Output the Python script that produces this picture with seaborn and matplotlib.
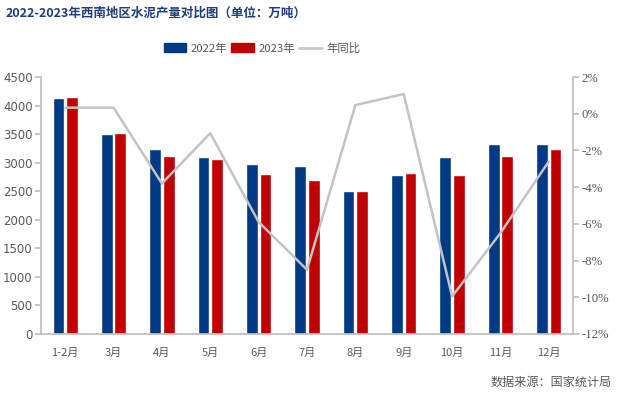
import matplotlib
matplotlib.use("Agg")
import matplotlib.pyplot as plt
import seaborn as sns
import pandas as pd
from matplotlib.ticker import FuncFormatter
from matplotlib.patches import Patch
from matplotlib.lines import Line2D

months = ["1-2月", "3月", "4月", "5月", "6月", "7月", "8月", "9月", "10月", "11月", "12月"]
v2022 = [4130, 3500, 3240, 3100, 2978, 2942, 2504, 2784, 3100, 3327, 3327]
v2023 = [4150, 3523, 3117, 3064, 2802, 2697, 2504, 2819, 2784, 3117, 3239]
yoy = [0.33, 0.33, -3.8, -1.06, -5.9, -8.5, 0.47, 1.07, -9.95, -6.5, -2.6]
series_names = ["2022年", "2023年", "年同比"]

sns.set_theme(style="white")
plt.rcParams['font.family'] = ['Noto Sans CJK SC', 'DejaVu Sans']

df = pd.DataFrame({
    "month": months * 2,
    "value": v2022 + v2023,
    "year": [series_names[0]] * len(months) + [series_names[1]] * len(months),
})
df_line = pd.DataFrame({"month": months, "yoy": yoy})

fig = plt.figure(figsize=(6.18, 3.93), dpi=100)
ax = fig.add_axes([41/618, 1-334/393, (573-41)/618, (334-77)/393])

sns.barplot(data=df, x="month", y="value", hue="year", ax=ax,
            palette=["#003A84", "#C00000"], width=0.56, gap=0.13,
            saturation=1, legend=False)
ax.set_ylim(0, 4500)
ax.set_yticks(range(0, 4501, 500))
ax.set_xlabel("")
ax.set_ylabel("")

ax2 = ax.twinx()
sns.lineplot(data=df_line, x="month", y="yoy", ax=ax2, color="#C3C3C3",
             linewidth=1.8, sort=False)
ax2.set_ylim(-12, 2)
ax2.set_yticks(range(-12, 3, 2))
ax2.yaxis.set_major_formatter(FuncFormatter(lambda v, p: f"{int(v)}%"))
ax2.set_ylabel("")
ax.set_xlim(-0.5, len(months) - 0.5)

grey = "#595959"
spine_c = "#BFBFBF"
for a in (ax, ax2):
    for s in a.spines.values():
        s.set_visible(False)
ax.spines["left"].set_visible(True)
ax.spines["left"].set_color(spine_c)
ax.spines["bottom"].set_visible(True)
ax.spines["bottom"].set_color(spine_c)
ax2.spines["right"].set_visible(True)
ax2.spines["right"].set_color(spine_c)

ax.tick_params(axis="y", which="both", left=True, length=4, color=spine_c,
               labelcolor=grey, pad=2)
ax.tick_params(axis="x", bottom=False, labelsize=8, labelcolor=grey, pad=4)
ax2.tick_params(axis="y", right=True, length=4, color=spine_c, labelcolor=grey, pad=2)
for lab in ax2.get_yticklabels():
    lab.set_family("Liberation Serif")
    lab.set_fontsize(9.2)
for lab in ax.get_yticklabels():
    lab.set_family("DejaVu Sans")
    lab.set_fontsize(8.5)

handles = [Patch(color="#003A84"), Patch(color="#C00000"),
           Line2D([0], [0], color="#C8C8C8", linewidth=2)]
fig.legend(handles, series_names, loc="center", bbox_to_anchor=(262/618, 1-48/393),
           ncol=3, frameon=False, fontsize=8.2, labelcolor=grey,
           handlelength=2.0, handleheight=0.75, columnspacing=0.4, handletextpad=0.35)

fig.text(6/618, 1-13/393, "2022-2023年西南地区水泥产量对比图（单位：万吨）",
         fontsize=9, fontweight="bold", color="#1F3D7A", va="center", ha="left")
fig.text(612/618, 1-382/393, "数据来源：国家统计局", fontsize=8.7, color=grey,
         va="center", ha="right")

fig.savefig("out.png", dpi=100)
